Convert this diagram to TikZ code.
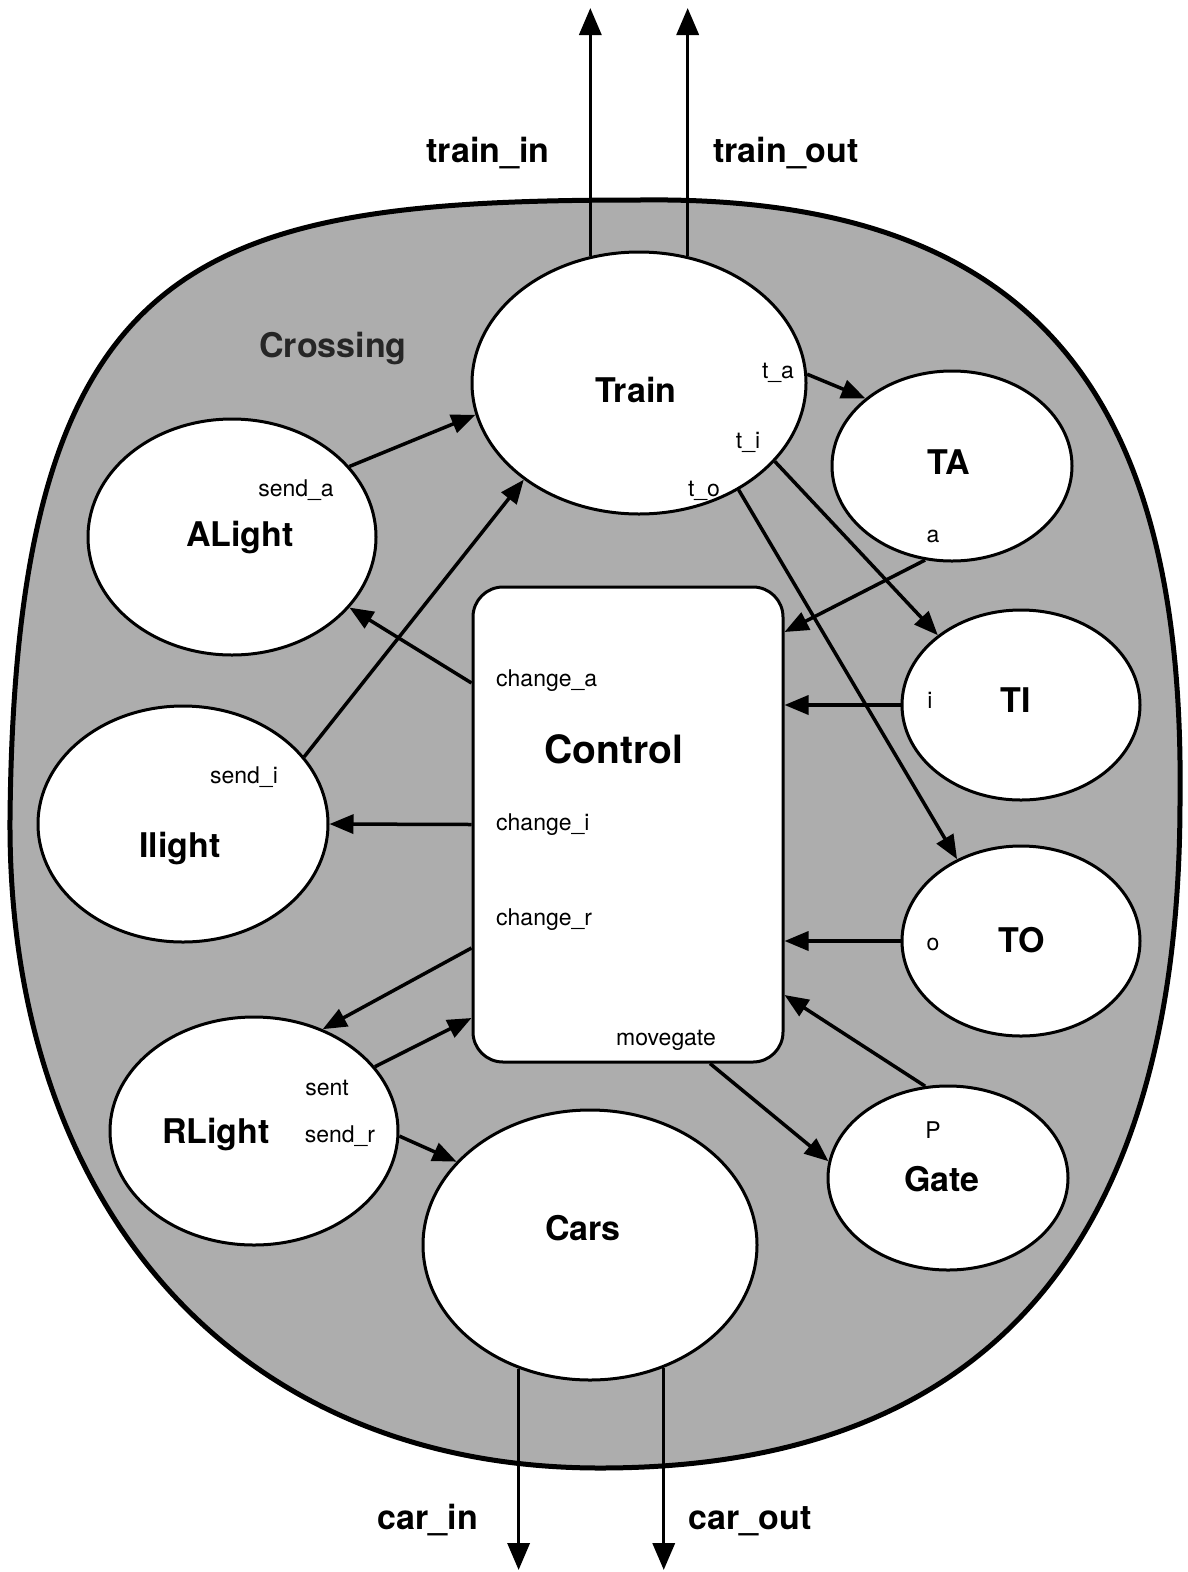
\documentclass[tikz,border=0pt]{standalone}
\usepackage{fontspec}
\setmainfont{TeX Gyre Heros}
\usetikzlibrary{shapes.geometric,arrows.meta,calc}
\tikzset{
  ell/.style={ellipse, draw, line width=3pt, fill=white, inner sep=0pt},
  bigname/.style={font=\fontsize{34}{40}\selectfont\bfseries, inner sep=0pt, text height=24.5pt, text depth=0pt},
  lab/.style={font=\fontsize{23}{27}\selectfont, inner sep=0pt, text height=16.5pt, text depth=0pt},
  arr/.style={line width=3.5pt, -{Triangle[length=24pt,width=19pt]}},
  ext/.style={line width=3.5pt, -{Triangle[length=27pt,width=22pt]}}
}
\begin{document}
\begin{tikzpicture}[x=1pt,y=-1pt]
\useasboundingbox (0,0) rectangle (1187,1572);
\fill[white] (0,0) rectangle (1187,1572);
% outer crossing region
\draw[line width=5pt, fill=black!32]
  (640,200) .. controls (1040,195) and (1185,400) .. (1180,800)
  .. controls (1180,1230) and (1000,1468) .. (600,1468)
  .. controls (230,1468) and (8,1200) .. (10,820)
  .. controls (15,250) and (200,200) .. (640,200) -- cycle;
\node[bigname, text=black!85] (crossing) at (333,345) {Crossing};
% sub-processes
\node[ell, minimum width=334pt, minimum height=262pt] (train) at (639,383) {};
\node[ell, minimum width=240pt, minimum height=190pt] (ta) at (952,466) {};
\node[ell, minimum width=238pt, minimum height=190pt] (ti) at (1021,705) {};
\node[ell, minimum width=238pt, minimum height=190pt] (to) at (1021,941) {};
\node[ell, minimum width=240pt, minimum height=184pt] (gate) at (948,1178) {};
\node[ell, minimum width=334pt, minimum height=270pt] (cars) at (590,1245) {};
\node[ell, minimum width=288pt, minimum height=228pt] (rlight) at (254,1131) {};
\node[ell, minimum width=290pt, minimum height=236pt] (ilight) at (183,824) {};
\node[ell, minimum width=288pt, minimum height=236pt] (alight) at (232,537) {};
\node[draw, line width=3pt, fill=white, rounded corners=30pt, minimum width=310pt, minimum height=475pt, inner sep=0pt] (control) at (628,824.5) {};
% names
\node[bigname] (ltrain) at (636,390) {Train};
\node[bigname] (lta) at (949,462) {TA};
\node[bigname] (lti) at (1016,700) {TI};
\node[bigname] (lto) at (1022,940) {TO};
\node[bigname] (lgate) at (942,1179) {Gate};
\node[bigname] (lcars) at (583,1228) {Cars};
\node[bigname] (lrlight) at (216,1131) {RLight};
\node[bigname] (lilight) at (180,845) {Ilight};
\node[bigname] (lalight) at (240,534) {ALight};
\node[bigname, font=\fontsize{39}{45}\selectfont\bfseries, text height=28pt] (lcontrol) at (614,749) {Control};
% port labels
\node[lab] (pta) at (778,370) {t\_a};
\node[lab] (pti) at (748,440) {t\_i};
\node[lab] (pto) at (704,488) {t\_o};
\node[lab] (pa) at (933,534) {a};
\node[lab] (pi) at (930,700) {i};
\node[lab] (po) at (933,942) {o};
\node[lab] (pp) at (933,1130) {P};
\node[lab] (psenda) at (296,488) {send\_a};
\node[lab] (psendi) at (244,775) {send\_i};
\node[lab] (psent) at (327,1087) {sent};
\node[lab] (psendr) at (340,1134) {send\_r};
\node[lab, anchor=west] (pchga) at (496,678) {change\_a};
\node[lab, anchor=west] (pchgi) at (496,822) {change\_i};
\node[lab, anchor=west] (pchgr) at (496,917) {change\_r};
\node[lab] (pmove) at (666,1037) {movegate};
% external channels
\coordinate (tintop) at (590,8);
\coordinate (touttop) at (686,8);
\coordinate (cinbot) at (519,1570);
\coordinate (coutbot) at (663,1570);
\draw[ext] (train.111.1) -- (train.111.1 |- tintop);
\draw[ext] (train.69.5) -- (train.69.5 |- touttop);
\draw[ext] (cars.-120.2) -- (cars.-120.2 |- cinbot);
\draw[ext] (cars.-59) -- (cars.-59 |- coutbot);
\node[bigname] (ltin) at (488,150) {train\_in};
\node[bigname] (ltout) at (786,150) {train\_out};
\node[bigname] (lcin) at (428,1517) {car\_in};
\node[bigname] (lcout) at (750,1517) {car\_out};
% internal connectors
\draw[arr] (alight.31.4) -- (train.191.8);
\draw[arr] ([yshift=141.5pt]control.west) -- (alight.-31.2);
\draw[arr] (ilight.29.5) -- (train.220);
\draw[arr] (control.west) -- (ilight.east);
\draw[arr] ([yshift=-123.5pt]control.west) -- (rlight.56.4);
\draw[arr] (rlight.28.6) -- ([yshift=-193.5pt]control.west);
\draw[arr] (rlight.-2.4) -- (cars.148.5);
\draw[arr] (train.3.7) -- (ta.142.5);
\draw[arr] (train.-30.2) -- (ti.140.7);
\draw[arr] (train.-47.3) -- (to.128.9);
\draw[arr] (ta.254.3) -- ([yshift=192.5pt]control.east);
\draw[arr] (ti.west) -- (control.east |- ti.west);
\draw[arr] (to.west) -- (control.east |- to.west);
\draw[arr] (gate.104) -- ([yshift=-170.5pt]control.east);
\draw[arr] ([xshift=82pt]control.south) -- (gate.172);
\end{tikzpicture}
\end{document}
